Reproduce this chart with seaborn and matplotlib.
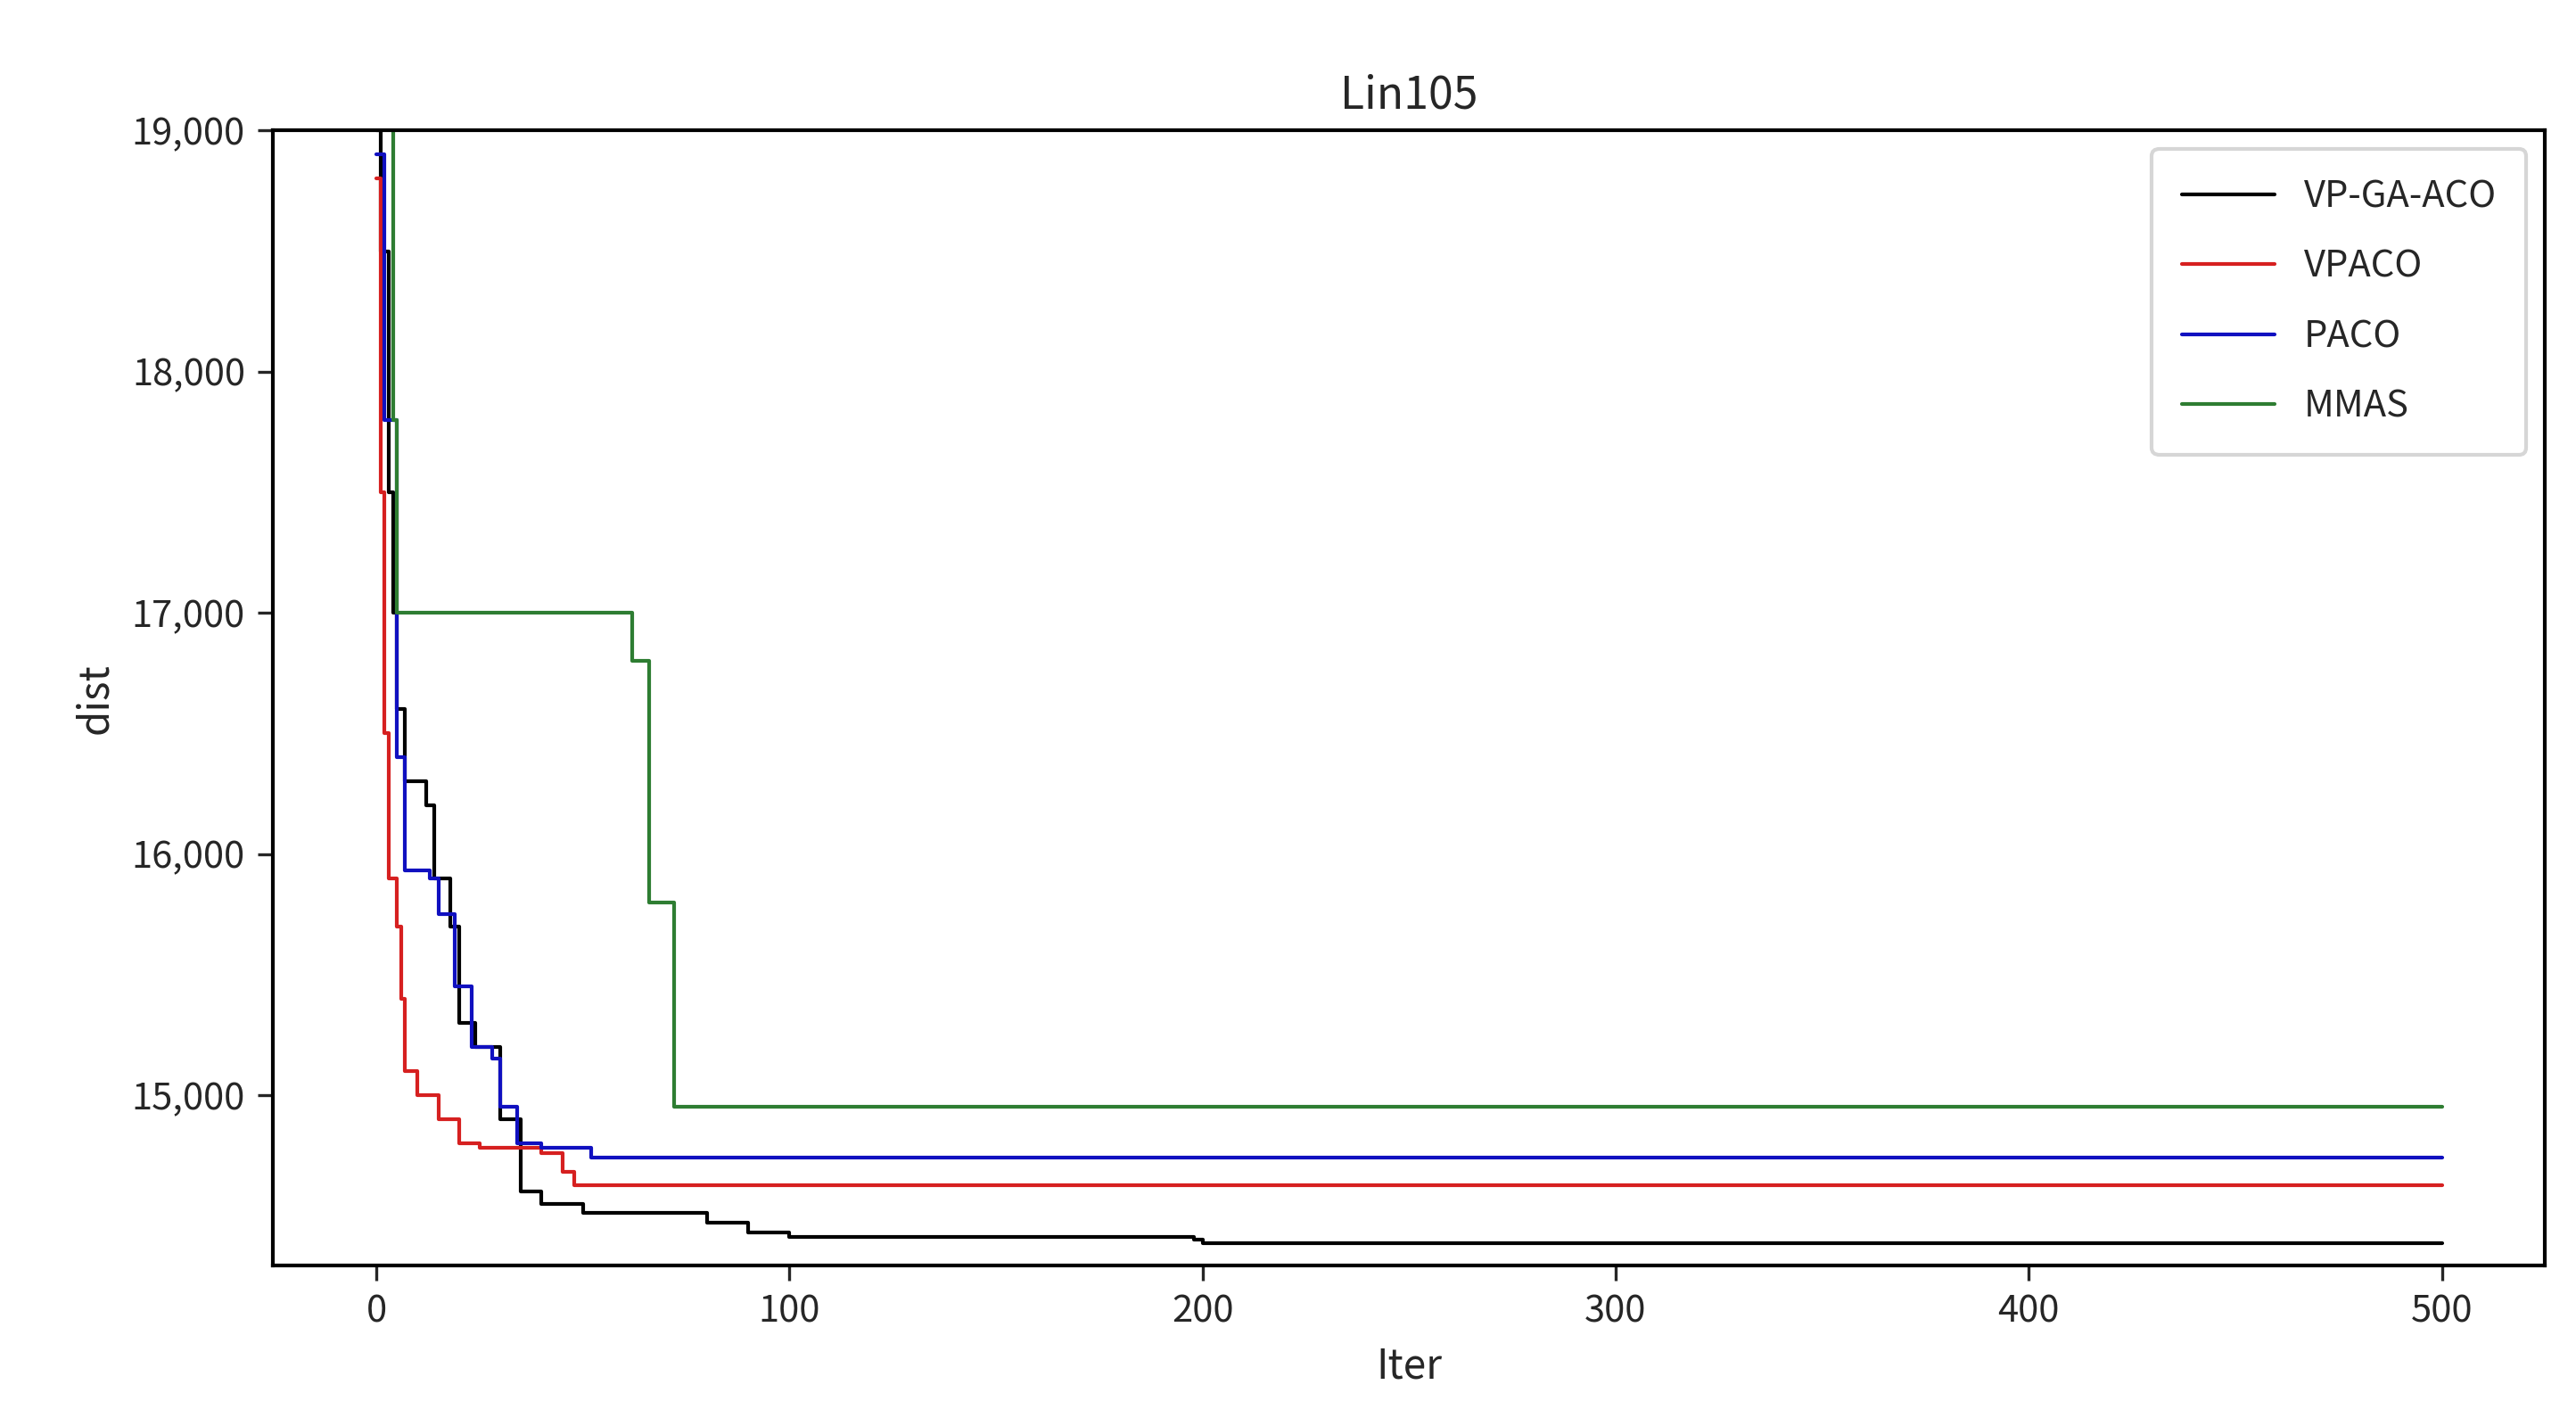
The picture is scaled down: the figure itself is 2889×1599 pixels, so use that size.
import numpy as np
import matplotlib
matplotlib.use('Agg')
import matplotlib.pyplot as plt
import seaborn as sns
from matplotlib.ticker import FuncFormatter

# breakpoints (iter, best distance) of each convergence curve, step-wise
ga_iter = [0, 1, 3, 4, 5, 7, 12, 14, 18, 20, 24, 30, 35, 40, 50, 80, 90, 100, 198, 200, 500]
ga_dist = [19000, 18500, 17500, 17000, 16600, 16300, 16200, 15900, 15700, 15300, 15200, 14900,
           14600, 14550, 14510, 14470, 14430, 14410, 14400, 14385, 14385]
vp_iter = [0, 1, 2, 3, 5, 6, 7, 10, 15, 20, 25, 40, 45, 48, 500]
vp_dist = [18800, 17500, 16500, 15900, 15700, 15400, 15100, 15000, 14900, 14800, 14780, 14760,
           14680, 14625, 14625]
pa_iter = [0, 2, 5, 7, 13, 15, 19, 23, 28, 30, 34, 40, 52, 500]
pa_dist = [18900, 17800, 16400, 15930, 15900, 15750, 15450, 15200, 15150, 14950, 14800, 14780,
           14740, 14740]
mm_iter = [0, 4, 5, 61, 62, 66, 72, 500]
mm_dist = [19100, 17800, 17000, 17000, 16800, 15800, 14950, 14950]

series = [("VP-GA-ACO", ga_iter, ga_dist, "black"),
          ("VPACO", vp_iter, vp_dist, "#d62020"),
          ("PACO", pa_iter, pa_dist, "#1010c0"),
          ("MMAS", mm_iter, mm_dist, "#2e7d32")]

sns.set_style("white")
plt.rcParams['font.family'] = ['Noto Sans CJK SC', 'DejaVu Sans']
fig = plt.figure(figsize=(9.63, 5.33), dpi=300)
ax = fig.add_axes([0.106, 0.1125, 0.882, 0.796])
for name, it, d, c in series:
    sns.lineplot(x=it, y=d, ax=ax, color=c, label=name, linewidth=1.0, drawstyle='steps-post')

ax.set_xlim(-25, 525)
ax.set_ylim(14293, 19000)
ax.set_xticks([0, 100, 200, 300, 400, 500])
ax.set_yticks([15000, 16000, 17000, 18000, 19000])
ax.yaxis.set_major_formatter(FuncFormatter(lambda v, p: f"{v:,.0f}"))
ax.tick_params(labelsize=10, length=4, direction='out', left=True, bottom=True)
for s in ax.spines.values():
    s.set_color('black')
    s.set_linewidth(1.0)
ax.set_title("Lin105", fontsize=12)
ax.set_xlabel("Iter", fontsize=11)
ax.set_ylabel("dist", fontsize=11)
ax.legend(loc='upper right', fontsize=10, frameon=True, handlelength=2.5, borderpad=0.8, labelspacing=0.9)
fig.savefig("out.png", dpi=300)
